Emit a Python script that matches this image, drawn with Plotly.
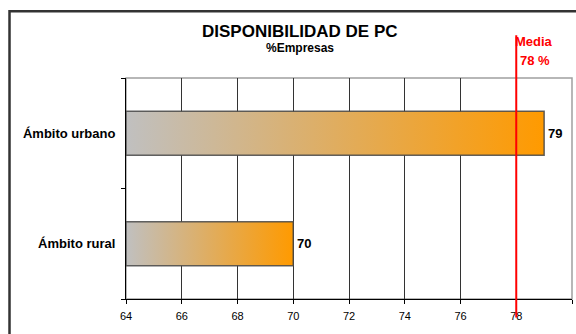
import plotly.graph_objects as go

# ---- data ----
categories = ["Ámbito rural", "Ámbito urbano"]
values = [70, 79]
media = 78
x_ticks = [64, 66, 68, 70, 72, 74, 76, 78, 80]

AX_MIN, AX_MAX = 64, 80
HALF = 0.2
FONT = "Liberation Sans, Arial, sans-serif"

fig = go.Figure()

# gradient bars (scatter polygons with fillgradient)
for i, (cat, v) in enumerate(zip(categories, values)):
    fig.add_trace(go.Scatter(
        x=[AX_MIN, v, v, AX_MIN, AX_MIN],
        y=[i - HALF, i - HALF, i + HALF, i + HALF, i - HALF],
        mode="lines",
        fill="toself",
        fillgradient=dict(type="horizontal",
                          colorscale=[[0, "#C0C0C0"], [1, "#FF9A00"]]),
        line=dict(color="rgba(70,70,70,0.85)", width=1.5),
        hoverinfo="skip",
        showlegend=False,
        name=cat,
    ))

annotations = [
    dict(text="<b>DISPONIBILIDAD DE PC</b>", xref="paper", yref="paper",
         x=0.390, y=1.212, xanchor="center", yanchor="middle",
         showarrow=False, font=dict(family=FONT, size=17, color="#000000")),
    dict(text="<b>%Empresas</b>", xref="paper", yref="paper",
         x=0.390, y=1.135, xanchor="center", yanchor="middle",
         showarrow=False, font=dict(family=FONT, size=12, color="#000000")),
    dict(text="<b>Media</b>", xref="x", yref="paper",
         x=media, xshift=18, y=1.164, xanchor="center", yanchor="middle",
         showarrow=False, font=dict(family=FONT, size=13, color="#FF0000")),
    dict(text=f"<b>{media} %</b>", xref="x", yref="paper",
         x=media, xshift=19, y=1.078, xanchor="center", yanchor="middle",
         showarrow=False, font=dict(family=FONT, size=13, color="#FF0000")),
]

# data labels
for i, v in enumerate(values):
    annotations.append(dict(
        text=f"<b>{v}</b>", xref="x", yref="y", x=v, y=i,
        xanchor="left", yanchor="middle", xshift=2, showarrow=False,
        font=dict(family=FONT, size=13, color="#000000")))

fig.update_layout(
    width=576, height=334,
    margin=dict(l=126, r=4, t=78, b=35),
    paper_bgcolor="white",
    plot_bgcolor="white",
    font=dict(family=FONT, color="#000000"),
    showlegend=False,
    xaxis=dict(
        range=[AX_MIN, AX_MAX],
        tickvals=x_ticks,
        ticktext=[str(t) for t in x_ticks],
        showgrid=True,
        gridcolor="#333333",
        gridwidth=1,
        showline=True,
        linecolor="#000000",
        linewidth=1,
        ticks="outside",
        ticklen=4,
        tickcolor="#000000",
        ticklabelstandoff=3,
        tickfont=dict(family=FONT, size=11, color="#000000"),
        zeroline=False,
        fixedrange=True,
    ),
    yaxis=dict(
        range=[-0.5, 1.5],
        tickvals=list(range(len(categories))),
        ticktext=[f"<b>{c}</b>" for c in categories],
        ticks="",
        showgrid=False,
        showline=True,
        linecolor="#000000",
        linewidth=1,
        zeroline=False,
        tickfont=dict(family=FONT, size=13, color="#000000"),
        ticklabelstandoff=7,
        minor=dict(tickvals=[-0.5, 0.5, 1.5], ticks="outside", ticklen=4,
                   tickcolor="#000000", showgrid=False),
        fixedrange=True,
    ),
    shapes=[
        # plot-area border (top/right gray)
        dict(type="rect", xref="paper", yref="paper", x0=0, x1=1, y0=0, y1=1,
             line=dict(color="#A0A0A0", width=1.5), layer="below"),
        # outer chart border
        dict(type="rect", xref="paper", yref="paper",
             x0=-0.2612, x1=1.1, y0=-0.3, y1=1.3025,
             line=dict(color="#333333", width=2.5), layer="below"),
        # media line
        dict(type="line", xref="x", yref="paper", x0=media, x1=media,
             y0=-0.0835, y1=1.194,
             line=dict(color="#FF0000", width=2), layer="above"),
    ],
    annotations=annotations,
)

fig.write_html("out.html")
